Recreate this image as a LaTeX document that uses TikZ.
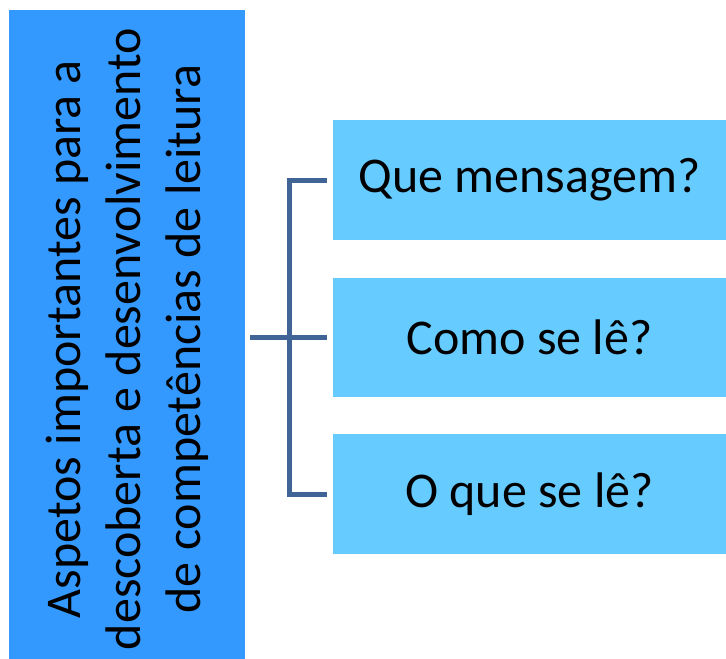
\documentclass[tikz,border=0pt]{standalone}
\usepackage{fontspec}
\setmainfont{Carlito}
\definecolor{leftblue}{RGB}{51,153,255}
\definecolor{rightblue}{RGB}{102,204,255}
\definecolor{connblue}{RGB}{64,100,150}
\tikzset{
  leftbox/.style={fill=leftblue, draw=none, inner sep=0pt, minimum width=236pt, minimum height=650pt},
  rightbox/.style={fill=rightblue, draw=none, inner sep=0pt, minimum width=393pt, minimum height=120pt, font=\fontsize{50}{60}\selectfont},
  lefttext/.style={rotate=90, align=center, inner sep=0pt, font=\fontsize{50}{60}\selectfont},
  conn/.style={draw=connblue, line width=5pt, line join=miter}
}
\begin{document}
\begin{tikzpicture}[x=1pt,y=-1pt]
\useasboundingbox (0,0) rectangle (726,659);
\node[leftbox] (L) at (127,334.5) {};
\node[lefttext] (Lt) at (127,339) {Aspetos importantes para a\\descoberta e desenvolvimento\\de competências de leitura};
\node[rightbox] (A) at (529.5,180) {Que mensagem?};
\node[rightbox, minimum height=119pt] (B) at (529.5,337.5) {Como se lê?};
\node[rightbox] (C) at (529.5,494) {O que se lê?};
\coordinate (jx) at (289,0);
\draw[conn, shorten <=5pt, shorten >=6pt] (L.east |- B.west) -- (B.west);
\draw[conn] ([xshift=-6pt]A.west) -| (jx |- C.west) -- ([xshift=-6pt]C.west);
\end{tikzpicture}
\end{document}
